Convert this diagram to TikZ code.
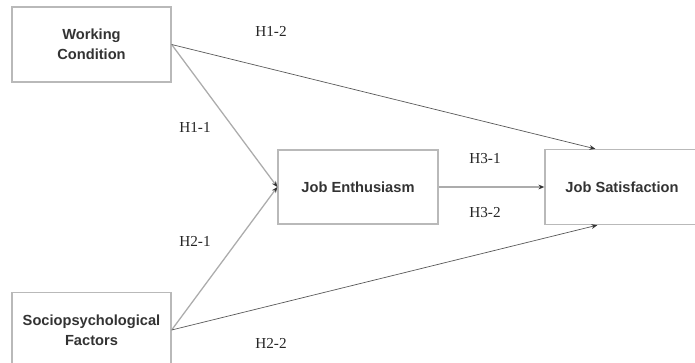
\documentclass[tikz,border=0pt]{standalone}
\usepackage{fontspec}
\setmainfont{Liberation Serif}
\newfontfamily\boxfont{Liberation Sans}
\usetikzlibrary{calc}
\usetikzlibrary{arrows.meta}

\begin{document}
\begin{tikzpicture}
  [
    x=0.03cm, y=-0.03cm,
    construct/.style = {draw=gray!55, line width=1.1pt, fill=white, inner sep=0pt,
                        minimum width=4.77cm, minimum height=2.25cm, align=center,
                        font=\boxfont\bfseries\fontsize{12.5}{17}\selectfont, text=black!80},
    hyp/.style = {font=\fontsize{13}{15}\selectfont, text=black!85},
    link/.style = {-{Stealth[length=5pt, width=4pt, color=black!80]}, gray!65, line width=1.1pt},
    thinlink/.style = {link, black!65, line width=0.6pt}
  ]
% Canvas (pixel units, y downwards)
\useasboundingbox (0,0) rectangle (695,363);
\clip (0,0) rectangle (695,363);

% ---------------------------------------------------
% Constructs
\node[construct] (wc) at (91.5, 44.5) {Working\\Condition};
\node[construct] (sf) at (91.5, 330)  {Sociopsychological\\Factors};
\node[construct, minimum width=4.8cm, minimum height=2.22cm] (je) at (358, 187) {Job Enthusiasm};
\node[construct, minimum width=4.62cm, minimum height=2.25cm] (js) at (622, 187) {Job Satisfaction};

% Ends on Job Satisfaction
\coordinate[] (jstop) at ($ (js.north west) + (51, 0) $);
\coordinate[] (jsbot) at ($ (js.south west) + (53, 0) $);

% Paths
\draw[link] (wc.east) -- (je.west);
\draw[link] (sf.east) -- (je.west);
\draw[link] (je.east) -- (js.west);
\draw[thinlink] (wc.east) -- (jstop);
\draw[thinlink] (sf.east) -- (jsbot);

% Hypotheses
\node[hyp] (h12) at (271, 31)  {H1-2};
\node[hyp] (h11) at (195, 127) {H1-1};
\node[hyp] (h21) at (195, 241) {H2-1};
\node[hyp] (h22) at (271, 343) {H2-2};
\node[hyp] (h31) at (485, 159) {H3-1};
\node[hyp] (h32) at (485, 213) {H3-2};
% ---------------------------------------------------
\end{tikzpicture}
\end{document}
